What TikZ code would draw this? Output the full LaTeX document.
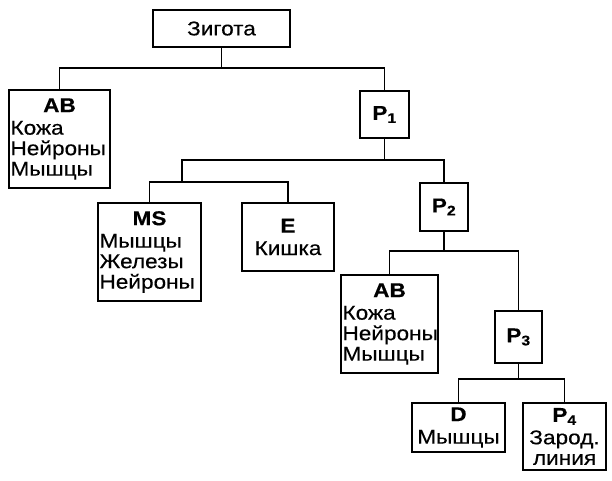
\documentclass[tikz,border=0pt]{standalone}
\usepackage{fontspec}
\setmainfont[FakeStretch=1.13, FakeBold=0.3]{Liberation Sans}

\newcommand{\hd}[1]{\makebox[\hsize]{\bfseries #1}}
\newcommand{\Pc}[1]{\textbf{P}\textsubscript{\bfseries #1}}

\begin{document}
\begin{tikzpicture}[
    x=1pt, y=-1pt,
    every node/.style={draw, line width=1.5pt, inner xsep=1.5pt, inner ysep=0pt, font=\fontsize{20}{20.5}\selectfont},
    cbox/.style={align=center},
    lbox/.style={align=left, text width=#1},
    link/.style={line width=1.2pt}
]
\useasboundingbox (0,0) rectangle (612,481);

% cells
\node[cbox, minimum width=137pt, minimum height=37pt] (zyg) at (221.5,28.5) {Зигота};
\node[lbox=98pt, minimum height=98pt] (ab1) at (59.5,139) {\hd{AB}\\[2pt]Кожа\\Нейроны\\Мышцы};
\node[cbox, minimum width=49pt, minimum height=47pt] (p1) at (384.5,114.5) {\Pc{1}};
\node[lbox=100pt, minimum height=98pt] (ms) at (149.5,252) {\hd{MS}\\[2pt]Мышцы\\Железы\\Нейроны};
\node[cbox, minimum width=92pt, minimum height=68pt] (e) at (288,237) {\textbf{E}\\[2pt]Кишка};
\node[cbox, minimum width=48pt, minimum height=48pt] (p2) at (444,207) {\Pc{2}};
\node[lbox=94pt, minimum height=98pt] (ab2) at (389.5,324) {\hd{AB}\\[2pt]Кожа\\Нейроны\\Мышцы};
\node[cbox, minimum width=47pt, minimum height=52pt] (p3) at (518.5,337) {\Pc{3}};
\node[cbox, minimum width=93pt, minimum height=49pt] (d) at (458.5,427.5) {\textbf{D}\\[2pt]Мышцы};
\node[cbox, minimum width=83pt, minimum height=67pt] (p4) at (564.5,436.5) {\Pc{4}\\[2pt]Зарод.\\линия};

% junctions
\coordinate (j0) at (zyg.south |- 0,68);
\coordinate (j1) at (p1.south |- 0,160);
\coordinate (g1) at (182,182);
\coordinate (j2) at (p2.south |- 0,251);
\coordinate (j3) at (p3.south |- 0,379);

% lineage lines
\draw[link] (zyg.south) -- (j0);
\draw[link] (ab1.north) |- (j0) -| (p1.north);
\draw[link] (p1.south) -- (j1);
\draw[link] (g1) |- (j1) -| (p2.north);
\draw[link] (ms.north) |- (g1) -| (e.north);
\draw[link] (p2.south) -- (j2);
\draw[link] (ab2.north) |- (j2) -| (p3.north);
\draw[link] (p3.south) -- (j3);
\draw[link] (d.north) |- (j3) -| (p4.north);
\end{tikzpicture}
\end{document}
